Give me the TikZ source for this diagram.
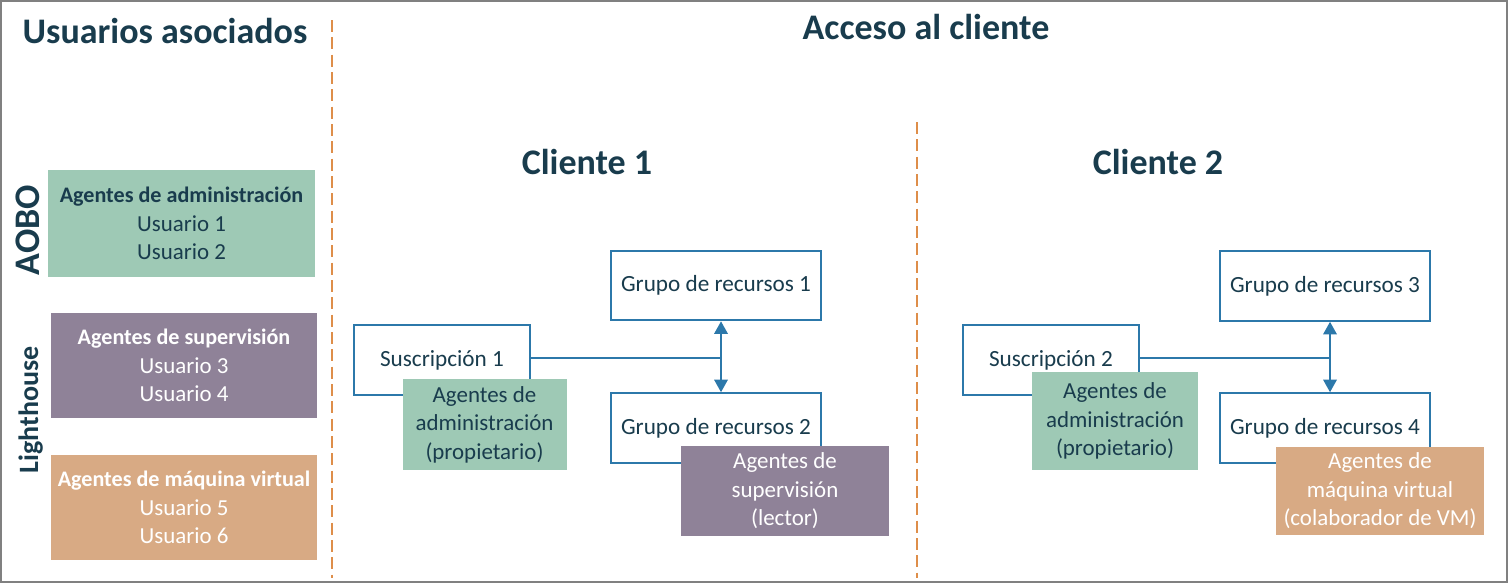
\documentclass[tikz,border=0pt]{standalone}
\usepackage{fontspec}
\setmainfont{Carlito}
\usetikzlibrary{arrows.meta}

\definecolor{tinta}{RGB}{25,60,77}
\definecolor{salvia}{RGB}{158,201,181}
\definecolor{malva}{RGB}{143,130,152}
\definecolor{arena}{RGB}{216,170,132}
\definecolor{azul}{RGB}{44,120,170}
\definecolor{naranja}{RGB}{222,142,74}
\definecolor{marco}{RGB}{128,128,128}

\newcommand{\rolname}[1]{{\fontsize{16.6}{21.4}\selectfont\bfseries #1}}

\tikzset{titulo/.style = {anchor=base, text=tinta, font=\fontsize{27}{32}\selectfont\bfseries}}
\tikzset{rol/.style = {inner sep=0, align=center, font=\fontsize{17.2}{21.4}\selectfont}}
\tikzset{admin/.style = {rol, fill=salvia, text=tinta}}
\tikzset{lectura/.style = {rol, fill=malva, text=white}}
\tikzset{vm/.style = {rol, fill=arena, text=white}}
\tikzset{recurso/.style = {draw=azul, line width=1.6pt, fill=white, inner sep=0, minimum width=158pt, minimum height=52pt, text=tinta, font=\fontsize{17.4}{21.4}\selectfont}}
\tikzset{enlace/.style = {draw=azul, line width=1.8pt}}
\tikzset{flecha/.style = {enlace, {Triangle[width=10pt,length=9.5pt]}-{Triangle[width=10pt,length=9.5pt]}}}
\tikzset{divisor/.style = {draw=naranja, line width=1.3pt, dash pattern=on 9pt off 4pt}}

\begin{document}
\begin{tikzpicture}[x=0.75pt, y=-0.75pt]
  \useasboundingbox (0,0) rectangle (1508,583);
  \draw[marco, line width=1.2pt] (1,1) rectangle (1507,582);

  \node[titulo] (usuarios) at (165,43.3) {Usuarios asociados};
  \node[titulo] (acceso) at (926,39) {Acceso al cliente};
  \node[titulo] (cliente1) at (587,174) {Cliente 1};
  \node[titulo] (cliente2) at (1158,174) {Cliente 2};
  \node[titulo, rotate=90] (aobo) at (39,230) {AOBO};
  \node[titulo, rotate=90, font=\fontsize{21}{25}\selectfont\bfseries] (lighthouse) at (38,410) {Lighthouse};

  \draw[divisor] (332,20) -- (332,578);
  \draw[divisor] (917,122) -- (917,578);

  \node[admin, minimum width=200pt, minimum height=80pt] (agadmin) at (181.5,223.5) {\rolname{Agentes de administración}\\Usuario 1\\Usuario 2};
  \node[lectura, minimum width=199.5pt, minimum height=79pt] (agsuper) at (184,365.5) {\rolname{Agentes de supervisión}\\Usuario 3\\Usuario 4};
  \node[vm, minimum width=199.5pt, minimum height=79pt] (agvm) at (184,507.5) {\rolname{Agentes de máquina virtual}\\Usuario 5\\Usuario 6};

  \node[recurso, minimum width=132pt] (sub1) at (442,360) {Suscripción 1};
  \node[recurso] (rg1) at (716,285.5) {Grupo de recursos 1};
  \node[recurso] (rg2) at (716,428) {Grupo de recursos 2};
  \coordinate (j1) at (721,358);
  \draw[enlace] (sub1.east |- j1) -- (j1);
  \draw[flecha] (rg1.south -| j1) -- (rg2.north -| j1);
  \node[admin, minimum width=123pt, minimum height=68pt] (propietario1) at (484.5,424.5) {Agentes de\\administración\\(propietario)};
  \node[lectura, minimum width=156pt, minimum height=67pt] (lector) at (785,491) {Agentes de\\supervisión\\(lector)};

  \node[recurso, minimum width=132pt] (sub2) at (1051,360) {Suscripción 2};
  \node[recurso] (rg3) at (1325,286) {Grupo de recursos 3};
  \node[recurso] (rg4) at (1325,428) {Grupo de recursos 4};
  \coordinate (j2) at (1330,358);
  \draw[enlace] (sub2.east |- j2) -- (j2);
  \draw[flecha] (rg3.south -| j2) -- (rg4.north -| j2);
  \node[admin, minimum width=124pt, minimum height=73.5pt] (propietario2) at (1115,421) {Agentes de\\administración\\(propietario)};
  \node[vm, minimum width=156pt, minimum height=66pt] (colaborador) at (1380,491) {Agentes de\\máquina virtual\\(colaborador de VM)};
\end{tikzpicture}
\end{document}
